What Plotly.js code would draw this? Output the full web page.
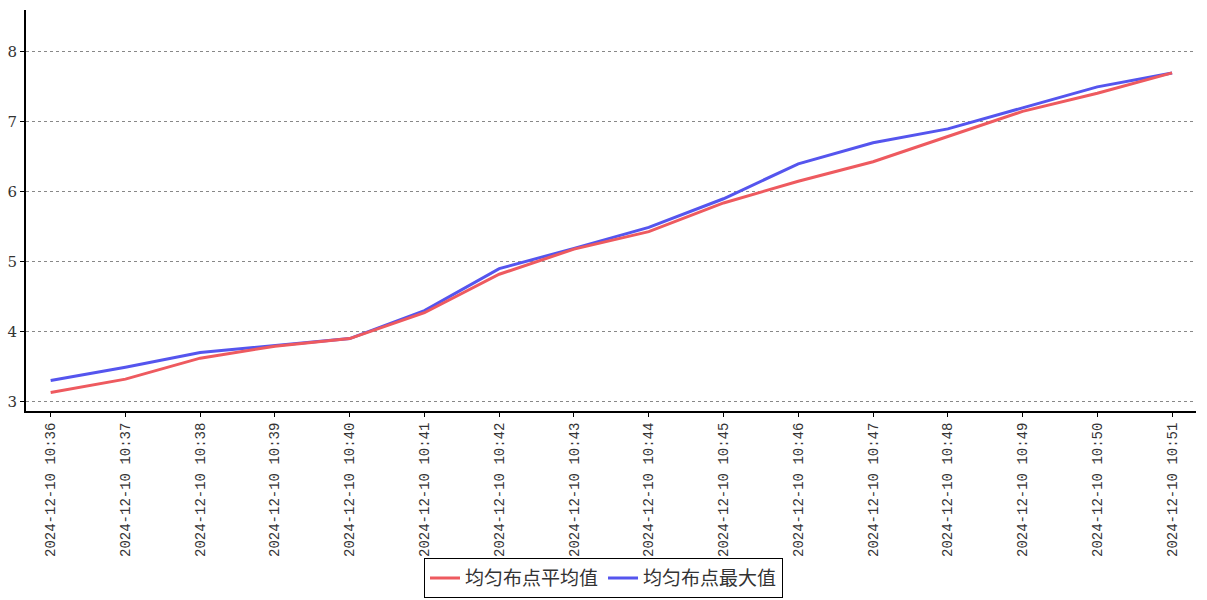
<!DOCTYPE html>
<html>
<head>
<meta charset="utf-8">
<script src="https://cdn.plot.ly/plotly-3.0.1.min.js"></script>
<style>html,body{margin:0;padding:0;background:#fff;}#chart{width:1207px;height:600px;}</style>
</head>
<body>
<div id="chart"></div>
<script>
const categories = ["2024-12-10 10:36","2024-12-10 10:37","2024-12-10 10:38","2024-12-10 10:39","2024-12-10 10:40","2024-12-10 10:41","2024-12-10 10:42","2024-12-10 10:43","2024-12-10 10:44","2024-12-10 10:45","2024-12-10 10:46","2024-12-10 10:47","2024-12-10 10:48","2024-12-10 10:49","2024-12-10 10:50","2024-12-10 10:51"];
const avgName = "均匀布点平均值";
const maxName = "均匀布点最大值";
const avgValues = [3.13,3.32,3.62,3.79,3.90,4.27,4.82,5.18,5.43,5.84,6.15,6.43,6.79,7.15,7.41,7.70];
const maxValues = [3.30,3.49,3.70,3.80,3.90,4.30,4.90,5.19,5.49,5.90,6.40,6.70,6.90,7.20,7.50,7.70];

const traces = [
  {x: categories, y: maxValues, name: maxName, type: 'scatter', mode: 'lines',
   line: {color: '#5555ee', width: 3}, legendrank: 2},
  {x: categories, y: avgValues, name: avgName, type: 'scatter', mode: 'lines',
   line: {color: '#ee5a5f', width: 3}, legendrank: 1}
];

const layout = {
  width: 1207, height: 600,
  margin: {l: 26, r: 11, t: 10, b: 189, pad: 0},
  paper_bgcolor: '#fff', plot_bgcolor: '#fff',
  showlegend: true,
  legend: {orientation: 'h', xref: 'container', yref: 'container',
    x: 0.5, xanchor: 'center', y: 0.003, yanchor: 'bottom',
    bordercolor: '#000', borderwidth: 1, font: {family: 'Noto Sans CJK SC', size: 19, color: '#333'},
    itemwidth: 30, tracegroupgap: 0},
  xaxis: {
    type: 'category', range: [-0.33, 15.32], automargin: false,
    showline: true, linecolor: '#000', linewidth: 2,
    ticks: 'outside', ticklen: 4, tickcolor: '#000',
    tickangle: -90, showgrid: false, zeroline: false,
    tickfont: {family: 'Liberation Mono', size: 14, color: '#333'}
  },
  yaxis: {
    range: [2.864, 8.6], automargin: false,
    tickvals: [3,4,5,6,7,8],
    showline: true, linecolor: '#000', linewidth: 2,
    ticks: 'outside', ticklen: 4, tickcolor: '#000',
    showgrid: true, gridcolor: '#888', griddash: 'dot', gridwidth: 1,
    zeroline: false,
    tickfont: {family: 'DejaVu Serif', size: 15, color: '#333'}
  }
};

Plotly.newPlot('chart', traces, layout, {displayModeBar: false, staticPlot: true});
</script>
</body>
</html>
